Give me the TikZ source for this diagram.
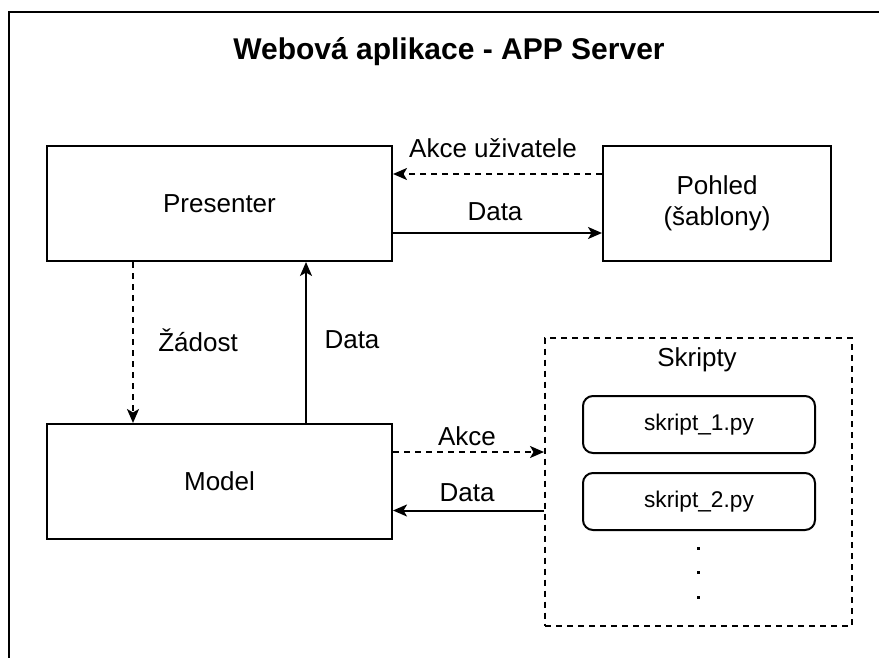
\documentclass[tikz,border=0pt]{standalone}
\usepackage{fontspec}
\setmainfont{Liberation Sans}
\usetikzlibrary{arrows.meta}
\begin{document}
\begin{tikzpicture}[x=1pt,y=-1pt,
  box/.style={draw, line width=2pt, minimum width=345pt, minimum height=115pt, inner sep=0pt, font=\fontsize{26}{31}\selectfont, align=center},
  lbl/.style={font=\fontsize{26}{31}\selectfont, inner sep=0pt},
  sbox/.style={draw, line width=2pt, rounded corners=10pt, minimum width=232pt, minimum height=57pt, inner sep=0pt, font=\fontsize{22.7}{27}\selectfont},
  conn/.style={line width=2pt, -{Stealth[length=14pt,width=12pt,inset=3.5pt]}},
  dsh/.style={dash pattern=on 6pt off 5pt},
  dotmark/.style={fill, minimum size=3pt, inner sep=0pt}
]
\useasboundingbox (0,0) rectangle (879,658);
\draw[line width=2.5pt] (9,660) -- (9,12) -- (881,12);

\node[font=\fontsize{30}{36}\selectfont\bfseries, inner sep=0pt] (title) at (449,52) {Webová aplikace - APP Server};

\node[box] (pres) at (219.5,203.5) {Presenter};
\node[box, minimum width=228pt] (pohled) at (717,203.5) {Pohled\\(šablony)};
\node[box] (model) at (219.5,481.5) {Model};

\node[draw, line width=2pt, dsh, minimum width=307pt, minimum height=288pt, inner sep=0pt] (skripty) at (698.5,481.5) {};
\node[lbl] (skl) at (697,360) {Skripty};
\node[sbox] (s1) at (699,424.5) {skript\_1.py};
\node[sbox] (s2) at (699,501.5) {skript\_2.py};
\node[dotmark] (p1) at (698,548) {};
\node[dotmark] (p2) at (698,572) {};
\node[dotmark] (p3) at (698,597) {};

% Presenter <-> Pohled
\draw[conn, dsh] ([yshift=29.5pt]pohled.west) -- ([yshift=29.5pt]pres.east);
\draw[conn] ([yshift=-29.5pt]pres.east) -- ([yshift=-29.5pt]pohled.west);
\node[lbl] (l1) at (493,148) {Akce uživatele};
\node[lbl] (l2) at (495,212) {Data};

% Presenter <-> Model
\draw[conn, dsh] ([xshift=-86.5pt]pres.south) -- ([xshift=-86.5pt]model.north);
\draw[conn] ([xshift=86.5pt]model.north) -- ([xshift=86.5pt]pres.south);
\node[lbl] (l3) at (198,340) {Žádost};
\node[lbl] (l4) at (352,340) {Data};

% Model <-> Skripty
\draw[conn, dsh] ([yshift=29.5pt]model.east) -- ([yshift=29.5pt]skripty.west);
\draw[conn] ([yshift=-29pt]skripty.west) -- ([yshift=-29pt]model.east);
\node[lbl] (l5) at (467,436) {Akce};
\node[lbl] (l6) at (467,493) {Data};
\end{tikzpicture}
\end{document}
